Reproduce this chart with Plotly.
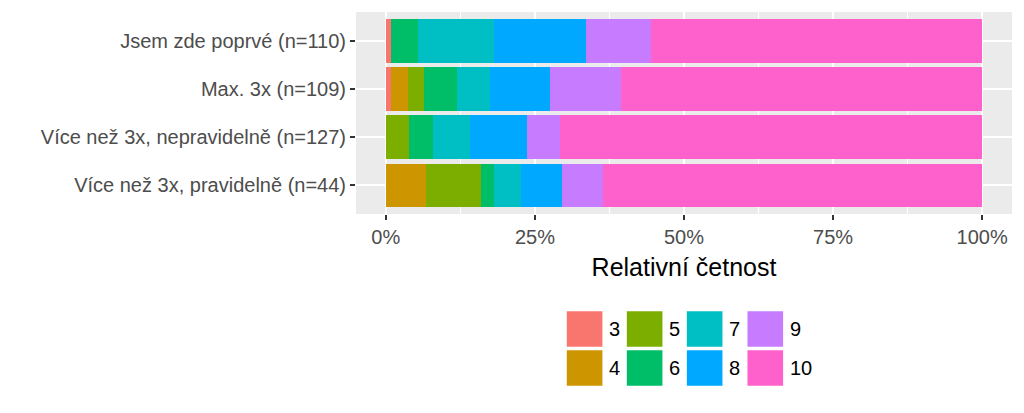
import plotly.graph_objects as go

# ---- data ----
groups = ["Jsem zde poprvé (n=110)", "Max. 3x (n=109)",
          "Více než 3x, nepravidelně (n=127)", "Více než 3x, pravidelně (n=44)"]
group_n = [110, 109, 127, 44]
levels = ["3", "4", "5", "6", "7", "8", "9", "10"]
counts_3 = [1, 1, 0, 0]
counts_4 = [0, 3, 0, 3]
counts_5 = [0, 3, 5, 4]
counts_6 = [5, 6, 5, 1]
counts_7 = [14, 6, 8, 2]
counts_8 = [17, 11, 12, 3]
counts_9 = [12, 13, 7, 3]
counts_10 = [61, 66, 90, 28]
counts = [counts_3, counts_4, counts_5, counts_6, counts_7, counts_8, counts_9, counts_10]
colors = ["#F8766D", "#CD9600", "#7CAE00", "#00BE67", "#00BFC4", "#00A9FF", "#C77CFF", "#FF61CC"]
x_tickvals = [0, 0.25, 0.5, 0.75, 1.0]
x_ticktext = ["0%", "25%", "50%", "75%", "100%"]

FONT = "Liberation Sans, Arial, sans-serif"
OFF = 8.0  # page body margin
W, H = 1024 - OFF, 413 - OFF
L, R, T, B = 356.0 - OFF, 1011.7 - OFF, 11.8 - OFF, 213.8 - OFF

fig = go.Figure()
for lev, cnt, col in zip(levels, counts, colors):
    fig.add_trace(go.Bar(
        y=groups, x=[c / n for c, n in zip(cnt, group_n)], name=lev,
        orientation="h", marker=dict(color=col, line=dict(width=0)),
        showlegend=False, hovertemplate=lev + ": %{x:.1%}<extra></extra>"))

fig.update_layout(
    width=W, height=H, barmode="stack", bargap=0.1,
    margin=dict(l=L, r=W - R, t=T, b=H - B, pad=0),
    paper_bgcolor="white", plot_bgcolor="#EBEBEB",
    font=dict(family=FONT, size=20, color="#4D4D4D"),
)
fig.update_xaxes(
    range=[-0.05, 1.05], tickmode="array", tickvals=x_tickvals, ticktext=x_ticktext,
    showgrid=True, gridcolor="white", gridwidth=2, zeroline=False,
    ticks="outside", ticklen=5, tickwidth=1.5, tickcolor="#333333",
    tickfont=dict(size=20, color="#4D4D4D"),
    minor=dict(tickmode="array", tickvals=[0.125, 0.375, 0.625, 0.875],
               showgrid=True, gridcolor="white", gridwidth=1, ticklen=0),
    title=dict(text="Relativní četnost", font=dict(size=25, color="black"), standoff=11),
    showline=False,
)
fig.update_yaxes(
    type="category", categoryorder="array", categoryarray=groups,
    range=[3.6, -0.6], showgrid=True, gridcolor="white", gridwidth=2,
    ticks="outside", ticklen=5, tickwidth=1.5, tickcolor="#333333",
    tickfont=dict(size=20, color="#4D4D4D"), showline=False,
)

# ---- legend drawn manually (2 rows x 4 columns, column-major) ----
def px_x(p):
    return (p - OFF - L) / (R - L)

def px_y(p):
    return (B - (p - OFF)) / (B - T)

col_x = [566.7, 626.7, 686.7, 747.3]
row_y = [311.0, 350.0]
key = 35.6
for i, (lev, col) in enumerate(zip(levels, colors)):
    c, r = i // 2, i % 2
    x0, y0 = col_x[c], row_y[r]
    fig.add_shape(type="rect", xref="paper", yref="paper",
                  x0=px_x(x0), x1=px_x(x0 + key), y0=px_y(y0), y1=px_y(y0 + key),
                  fillcolor=col, line=dict(width=0))
    fig.add_annotation(xref="paper", yref="paper", x=px_x(x0 + key + 5),
                       y=px_y(y0 + key / 2), text=lev, showarrow=False,
                       xanchor="left", yanchor="middle",
                       font=dict(size=20, color="black", family=FONT))

fig.write_html("out.html")
